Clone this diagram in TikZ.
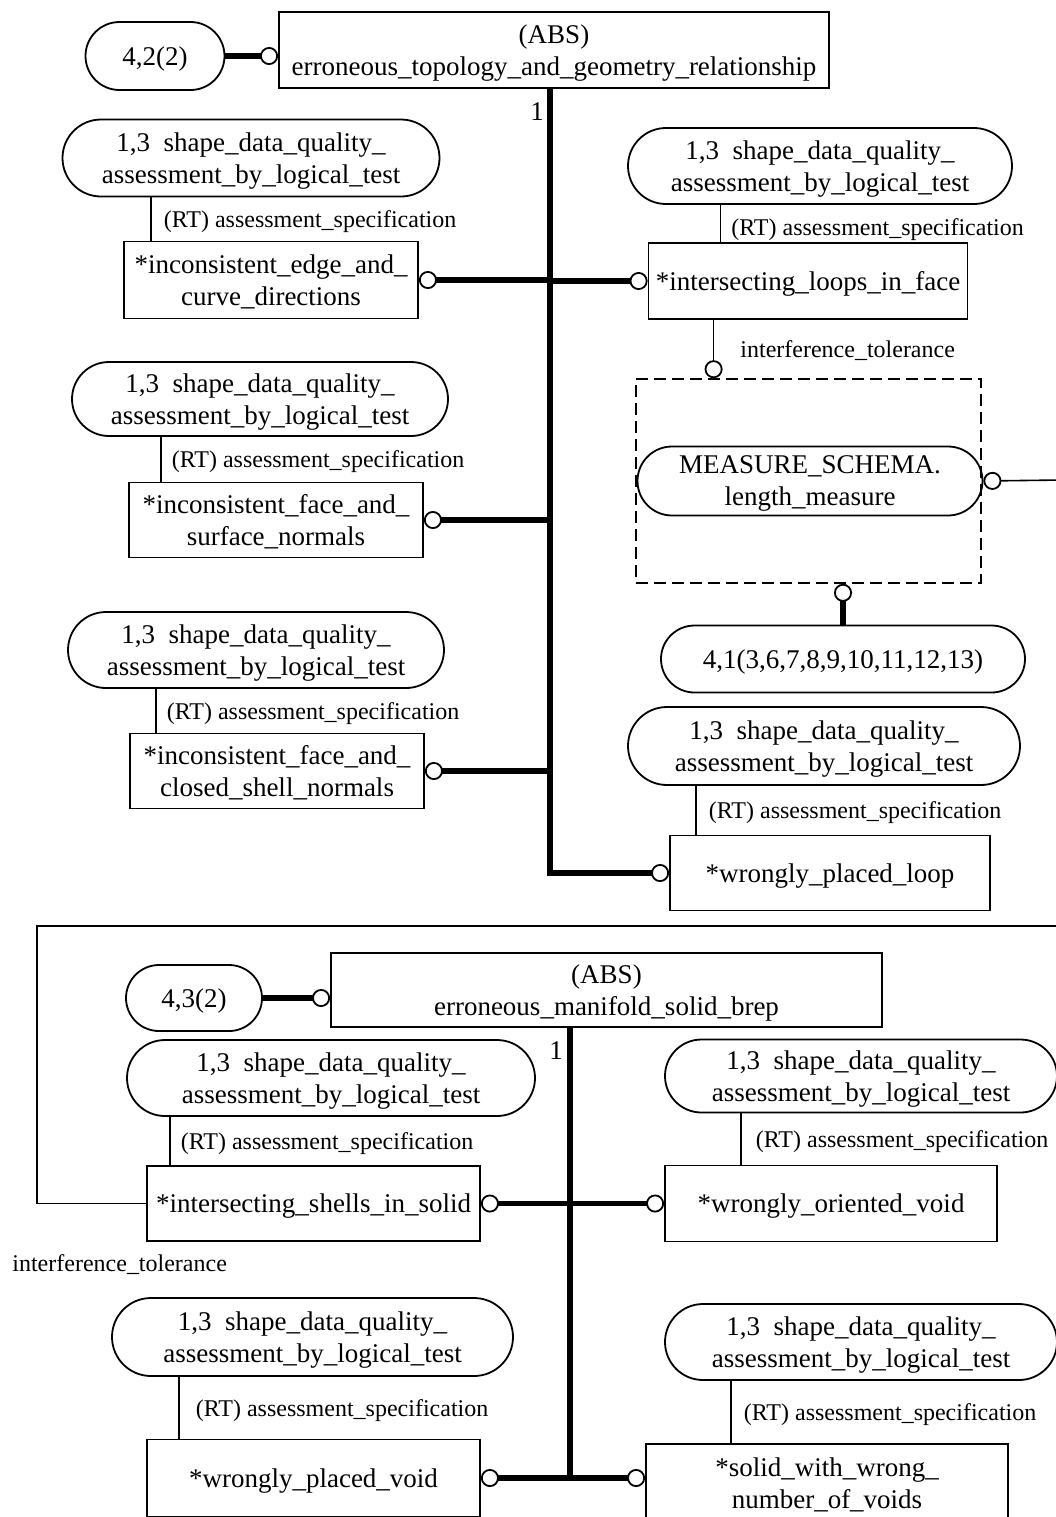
\documentclass[tikz,border=0pt]{standalone}
\usepackage{fontspec}
\setmainfont{Liberation Serif}
\usetikzlibrary{arrows.meta,shapes.misc}

\tikzset{
  ring/.tip={Circle[open,length=9pt,width=9pt,line width=0.9pt]},
  entity/.style={draw,line width=0.9pt,inner sep=0pt,text depth=0pt,align=center,font=\fontsize{13.5}{16}\selectfont},
  pill/.style={draw,rounded rectangle,line width=0.9pt,inner sep=0pt,text depth=0pt,align=center,font=\fontsize{13.5}{16}\selectfont},
  schemabox/.style={draw,line width=0.8pt,dash pattern=on 6pt off 3pt,inner sep=0pt},
  trunk/.style={line width=2.8pt},
  spec/.style={line width=0.8pt},
  rolelab/.style={font=\fontsize{12}{14}\selectfont,inner sep=1pt,text depth=0pt,anchor=west},
  card/.style={font=\fontsize{13.5}{16}\selectfont,inner sep=0pt}
}

\begin{document}
\begin{tikzpicture}[x=0.5pt,y=-0.5pt]
\useasboundingbox (0,0) rectangle (1056,1517);

% upper part: erroneous_topology_and_geometry_relationship
\node[entity,minimum width=275pt,minimum height=38pt] (topo) at (554,50) {(ABS)\\erroneous\_topology\_and\_geometry\_relationship};
\node[pill,minimum width=69.5pt,minimum height=34pt] (ref42) at (155,56) {4,2(2)};
\draw[trunk,-ring] (ref42.east) -- (ref42.east -| topo.west);
\node[card] (one1) at (537,112) {1};

% left column
\node[pill,minimum width=188.5pt,minimum height=38.5pt] (sdqa) at (251,158) {1,3~~shape\_data\_quality\_\\assessment\_by\_logical\_test};
\node[entity,minimum width=147pt,minimum height=38.5pt] (edgecurve) at (271,280) {*inconsistent\_edge\_and\_\\curve\_directions};
\node[pill,minimum width=188pt,minimum height=37pt] (sdqb) at (260,399) {1,3~~shape\_data\_quality\_\\assessment\_by\_logical\_test};
\node[entity,minimum width=147pt,minimum height=37.5pt] (facesurf) at (276,520) {*inconsistent\_face\_and\_\\surface\_normals};
\node[pill,minimum width=188pt,minimum height=38pt] (sdqc) at (256,650) {1,3~~shape\_data\_quality\_\\assessment\_by\_logical\_test};
\node[entity,minimum width=147pt,minimum height=37.5pt] (faceshell) at (277,771) {*inconsistent\_face\_and\_\\closed\_shell\_normals};

% right column
\node[pill,minimum width=192pt,minimum height=38pt] (sdqd) at (820,166) {1,3~~shape\_data\_quality\_\\assessment\_by\_logical\_test};
\node[entity,minimum width=159.5pt,minimum height=38pt] (loopsface) at (808,281) {*intersecting\_loops\_in\_face};
\node[schemabox,minimum width=172.5pt,minimum height=102pt] (msbox) at (808.5,481) {};
\node[pill,minimum width=172.5pt,minimum height=34.5pt] (lenmeas) at (810,481) {MEASURE\_SCHEMA.\\length\_measure};
\node[pill,minimum width=182pt,minimum height=33.5pt] (ref41) at (843,659) {4,1(3,6,7,8,9,10,11,12,13)};
\node[pill,minimum width=196pt,minimum height=39pt] (sdqe) at (824,746) {1,3~~shape\_data\_quality\_\\assessment\_by\_logical\_test};
\node[entity,minimum width=160pt,minimum height=37.5pt] (placedloop) at (830,873) {*wrongly\_placed\_loop};

% trunk and branches
\coordinate (tk1) at (550,873);
\draw[trunk,-ring] (topo.south -| tk1) -- (tk1) -- (tk1 -| placedloop.west);
\draw[trunk,ring-] (edgecurve.east) -- (edgecurve.east -| tk1);
\draw[trunk,ring-] (facesurf.east) -- (facesurf.east -| tk1);
\draw[trunk,ring-] (faceshell.east) -- (faceshell.east -| tk1);
\draw[trunk,-ring] (loopsface.west -| tk1) -- (loopsface.west);

% assessment_specification links
\draw[spec] ([xshift=14pt]edgecurve.north west) -- ([xshift=14pt]edgecurve.north west |- sdqa.south) node[rolelab,pos=.5,xshift=5pt] {(RT) assessment\_specification};
\draw[spec] ([xshift=16.5pt]facesurf.north west) -- ([xshift=16.5pt]facesurf.north west |- sdqb.south) node[rolelab,pos=.5,xshift=4pt] {(RT) assessment\_specification};
\draw[spec] ([xshift=13.5pt]faceshell.north west) -- ([xshift=13.5pt]faceshell.north west |- sdqc.south) node[rolelab,pos=.5,xshift=4pt] {(RT) assessment\_specification};
\draw[spec] ([xshift=36.5pt]loopsface.north west) -- ([xshift=36.5pt]loopsface.north west |- sdqd.south) node[rolelab,pos=.4,xshift=4pt] {(RT) assessment\_specification};
\draw[spec] ([xshift=13.5pt]placedloop.north west) -- ([xshift=13.5pt]placedloop.north west |- sdqe.south) node[rolelab,pos=.5,xshift=5pt] {(RT) assessment\_specification};

% interference_tolerance to the measure schema
\draw[spec,-ring] ([xshift=33pt]loopsface.south west) -- ([xshift=33pt]loopsface.south west |- msbox.north) node[rolelab,pos=.5,xshift=12pt] {interference\_tolerance};
\draw[trunk,ring-] (msbox.south -| ref41) -- (ref41.north);
\coordinate (pageR1) at (1062,480);
\draw[spec,ring-] (lenmeas.east) -- (pageR1);

% lower part: erroneous_manifold_solid_brep
\node[entity,minimum width=275.5pt,minimum height=37pt] (manifold) at (606.5,990) {(ABS)\\erroneous\_manifold\_solid\_brep};
\node[pill,minimum width=68pt,minimum height=33pt] (ref43) at (194,998) {4,3(2)};
\draw[trunk,-ring] (ref43.east) -- (ref43.east -| manifold.west);
\node[card] (one2) at (556,1051) {1};

\node[pill,minimum width=204pt,minimum height=38pt] (sdqf) at (331,1078) {1,3~~shape\_data\_quality\_\\assessment\_by\_logical\_test};
\node[entity,minimum width=166.5pt,minimum height=37.5pt] (shells) at (313.5,1203.5) {*intersecting\_shells\_in\_solid};
\node[pill,minimum width=196pt,minimum height=36.5pt] (sdqg) at (861,1076) {1,3~~shape\_data\_quality\_\\assessment\_by\_logical\_test};
\node[entity,minimum width=166pt,minimum height=38pt] (orientvoid) at (831,1203.5) {*wrongly\_oriented\_void};
\node[pill,minimum width=200.5pt,minimum height=39pt] (sdqh) at (312.5,1337) {1,3~~shape\_data\_quality\_\\assessment\_by\_logical\_test};
\node[entity,minimum width=166.5pt,minimum height=38.5pt] (placedvoid) at (313.5,1478) {*wrongly\_placed\_void};
\node[pill,minimum width=196pt,minimum height=38pt] (sdqi) at (861,1342) {1,3~~shape\_data\_quality\_\\assessment\_by\_logical\_test};
\node[entity,minimum width=181pt,minimum height=39pt] (nvoids) at (827,1483) {*solid\_with\_wrong\_\\number\_of\_voids};

% trunk and branches
\coordinate (tk2) at (570,1478);
\draw[trunk] (manifold.south -| tk2) -- (tk2);
\draw[trunk,ring-ring] (shells.east) -- (shells.east -| orientvoid.west);
\draw[trunk,ring-ring] (placedvoid.east) -- (placedvoid.east -| nvoids.west);

% assessment_specification links
\draw[spec] ([xshift=12pt]shells.north west) -- ([xshift=12pt]shells.north west |- sdqf.south) node[rolelab,pos=.5,xshift=4pt] {(RT) assessment\_specification};
\draw[spec] ([xshift=38.5pt]orientvoid.north west) -- ([xshift=38.5pt]orientvoid.north west |- sdqg.south) node[rolelab,pos=.5,xshift=6pt] {(RT) assessment\_specification};
\draw[spec] ([xshift=16.5pt]placedvoid.north west) -- ([xshift=16.5pt]placedvoid.north west |- sdqh.south) node[rolelab,pos=.5,xshift=7pt] {(RT) assessment\_specification};
\draw[spec] ([xshift=43pt]nvoids.north west) -- ([xshift=43pt]nvoids.north west |- sdqi.south) node[rolelab,pos=.5,xshift=5pt] {(RT) assessment\_specification};

% interference_tolerance running over the page
\coordinate (sepL) at (37,926);
\coordinate (pageR2) at (1062,926);
\draw[spec] (shells.west) -| (sepL) -- (pageR2);
\node[rolelab] (inttol) at (10,1263) {interference\_tolerance};
\end{tikzpicture}
\end{document}
